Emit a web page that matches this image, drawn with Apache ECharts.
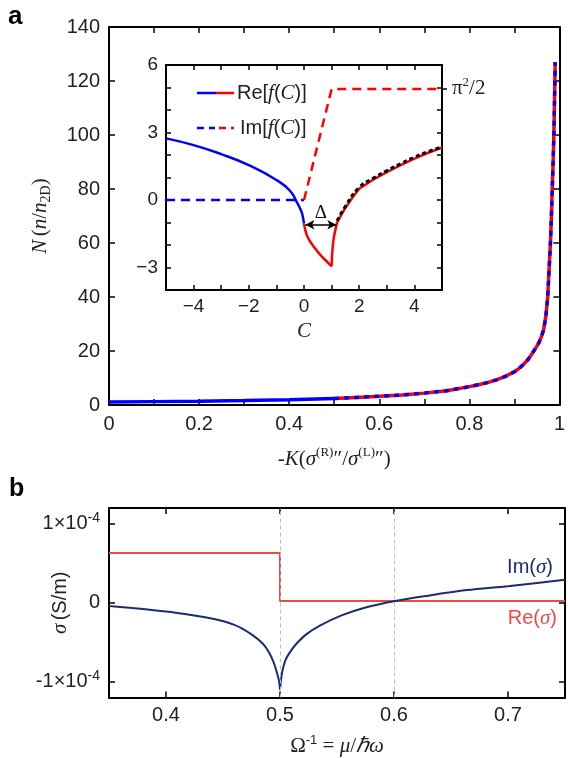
<!DOCTYPE html>
<html>
<head>
<meta charset="utf-8">
<title>N vs K, f(C) inset, sigma</title>
<script src="https://cdn.jsdelivr.net/npm/echarts@6/dist/echarts.min.js"></script>
</head>
<body style="margin:0;background:#fff">
<div id="main" style="width:568px;height:758px;"></div>
<script>
// panel a : N (n/n2D) vs -K
var kSolid = [0, 0.1, 0.2, 0.3, 0.4, 0.5];
var nSolid = [1.1, 1.25, 1.4, 1.65, 1.95, 2.4];
var kDash = [0.5, 0.55, 0.6, 0.65, 0.7, 0.75, 0.8, 0.82, 0.84, 0.86, 0.88, 0.9, 0.91, 0.92, 0.93, 0.94, 0.95, 0.955,
             0.96, 0.965, 0.97, 0.974, 0.977, 0.98, 0.982, 0.984, 0.986, 0.9876, 0.989, 0.9906];
var nDash = [2.4, 2.8, 3.2, 3.7, 4.4, 5.3, 6.8, 7.5, 8.3, 9.3, 10.6, 12.3, 13.5, 15, 16.8, 19.2, 21.8, 23.3,
             25.3, 28, 33, 40, 50, 60, 69, 80, 90, 100, 112, 127];

// inset : f(C)
var cReBlue = [-5, -4, -3, -2, -1, -0.5, -0.25, -0.1, -0.05, 0];
var reBlue = [2.74, 2.44, 2.04, 1.55, 0.89, 0.4, -0.12, -0.49, -0.7, -1.05];
var cReRed1 = [0, 0.05, 0.1, 0.2, 0.4, 0.6, 0.8, 1.0];
var reRed1 = [-1.05, -1.35, -1.55, -1.8, -2.15, -2.45, -2.7, -2.95];
var cReRed2 = [1.0, 1.01, 1.02, 1.035, 1.05, 1.075, 1.1, 1.15, 1.2, 1.35, 1.5, 1.75, 2, 2.5, 3, 3.5, 4, 4.5, 5];
var reRed2 = [-2.95, -2.65, -2.4, -2.15, -1.95, -1.72, -1.55, -1.25, -1.0, -0.66, -0.35, 0.1, 0.5, 0.9, 1.24, 1.55, 1.84, 2.1, 2.33];
var cBlack = [1.2, 1.5, 2, 2.5, 3, 3.5, 4, 4.5, 5];
var reBlack = [-0.93, -0.28, 0.56, 0.96, 1.3, 1.61, 1.9, 2.15, 2.36];
var cImBlue = [-5, 0];
var imBlue = [0, 0];
var cImRed = [0, 1, 5];
var imRed = [0, 4.93, 4.93];
var PI2_HALF = 4.9348;

// panel b : sigma (units of 1e-4 S/m) vs 1/Omega
var omRe = [0.35, 0.5, 0.5, 0.75];
var sigRe = [0.63, 0.63, 0.023, 0.023];
var omIm = [0.35, 0.38, 0.41, 0.44, 0.46, 0.475, 0.485, 0.49, 0.494, 0.497, 0.4993, 0.5,
            0.5007, 0.502, 0.505, 0.51, 0.515, 0.523, 0.535, 0.554, 0.575, 0.6, 0.63, 0.664, 0.7, 0.75];
var sigIm = [-0.04, -0.08, -0.13, -0.2, -0.28, -0.4, -0.52, -0.62, -0.74, -0.87, -1.0, -1.1,
             -1.0, -0.87, -0.72, -0.6, -0.51, -0.4, -0.29, -0.16, -0.06, 0.02, 0.09, 0.16, 0.21, 0.29];
var omTicks = [0.4, 0.5, 0.6, 0.7];
var sigTicks = [-1, 0, 1];
var omMarks = [0.5, 0.6];

var serif = 'Liberation Serif', sans = 'Liberation Sans';

function pairs(xs, ys) {
  return xs.map(function (x, i) { return [x, ys[i]]; });
}

var frame = { show: true, onZero: false, lineStyle: { color: '#000', width: 2 } };
function ticks(len, extra) {
  var t = { show: true, inside: true, length: len, lineStyle: { color: '#000', width: 1.5 } };
  for (var k in extra) t[k] = extra[k];
  return t;
}
var noLabel = { show: false };
var noSplit = { show: false };

var richSerif = {
  n: { fontFamily: serif, fontSize: 21, color: '#222', lineHeight: 26 },
  i: { fontFamily: serif, fontStyle: 'italic', fontSize: 21, color: '#222', lineHeight: 26 },
  s: { fontFamily: sans, fontSize: 20, color: '#222', lineHeight: 26 },
  sub: { fontFamily: serif, fontSize: 14, color: '#222', lineHeight: 14, verticalAlign: 'bottom' },
  sup: { fontFamily: serif, fontSize: 13, color: '#222', lineHeight: 13, verticalAlign: 'top' },
  ssup: { fontFamily: sans, fontSize: 13, color: '#222', lineHeight: 13, verticalAlign: 'top' }
};

var myChart = echarts.init(document.getElementById('main'));

var option = {
  backgroundColor: '#fff',
  animation: false,
  grid: [
    { left: 109, right: 3, top: 27, bottom: 353 },
    { left: 166, right: 126, top: 65, bottom: 468, show: true, backgroundColor: '#fff', borderWidth: 0 },
    { left: 109, right: 3, top: 508, bottom: 60 }
  ],
  xAxis: [
    {
      gridIndex: 0, type: 'value', min: 0, max: 1, interval: 0.1, position: 'bottom',
      axisLine: frame, axisTick: ticks(6), splitLine: noSplit,
      axisLabel: {
        margin: 9, fontFamily: sans, fontSize: 20, color: '#222',
        formatter: function (v) { var t = Math.round(v * 10); return t % 2 === 0 ? String(t / 10) : ''; }
      },
      name: '{n|-}{i|K}{n|(}{i|σ}{sup|(R)}{n|″/}{i|σ}{sup|(L)}{n|″)}',
      nameLocation: 'middle', nameGap: 41, nameTextStyle: { rich: richSerif }
    },
    { gridIndex: 0, type: 'value', min: 0, max: 1, interval: 0.1, position: 'top',
      axisLine: frame, axisTick: ticks(6), axisLabel: noLabel, splitLine: noSplit },
    {
      gridIndex: 1, type: 'value', min: -5, max: 5, interval: 1, position: 'bottom',
      axisLine: frame, axisTick: ticks(5), splitLine: noSplit,
      axisLabel: {
        margin: 7, fontFamily: sans, fontSize: 19, color: '#222',
        formatter: function (v) { return Math.round(v) % 2 === 0 ? String(v).replace('-', '\u2212') : ''; }
      },
      name: '{i|C}', nameLocation: 'middle', nameGap: 28, nameTextStyle: { rich: richSerif }
    },
    { gridIndex: 1, type: 'value', min: -5, max: 5, interval: 1, position: 'top',
      axisLine: frame, axisTick: ticks(5), axisLabel: noLabel, splitLine: noSplit },
    {
      gridIndex: 2, type: 'value', min: 0.35, max: 0.75, position: 'bottom',
      axisLine: frame, axisTick: ticks(6, { customValues: omTicks }), splitLine: noSplit,
      axisLabel: { customValues: omTicks, margin: 8, fontFamily: sans, fontSize: 20, color: '#222' },
      name: '{n|Ω}{ssup|-1}{n| = }{i|μ}{n|/}{i|ℏω}',
      nameLocation: 'middle', nameGap: 36, nameTextStyle: { rich: richSerif }
    },
    { gridIndex: 2, type: 'value', min: 0.35, max: 0.75, position: 'top',
      axisLine: frame, axisTick: ticks(6, { customValues: omTicks }), axisLabel: noLabel, splitLine: noSplit }
  ],
  yAxis: [
    {
      gridIndex: 0, type: 'value', min: 0, max: 140, interval: 20, position: 'left',
      axisLine: frame, axisTick: ticks(6), splitLine: noSplit,
      axisLabel: { margin: 9, fontFamily: sans, fontSize: 20, color: '#222' },
      name: '{i|N} {n|(}{i|n}{n|/}{i|n}{sub|2D}{n|)}',
      nameLocation: 'middle', nameGap: 56, nameTextStyle: { rich: richSerif }
    },
    { gridIndex: 0, type: 'value', min: 0, max: 140, interval: 20, position: 'right',
      axisLine: frame, axisTick: ticks(6), axisLabel: noLabel, splitLine: noSplit },
    {
      gridIndex: 1, type: 'value', min: -4, max: 6, interval: 1, position: 'left',
      axisLine: frame, axisTick: ticks(5), splitLine: noSplit,
      axisLabel: {
        margin: 8, fontFamily: sans, fontSize: 19, color: '#222',
        formatter: function (v) { return Math.round(v) % 3 === 0 ? String(v).replace('-', '\u2212') : ''; }
      }
    },
    { gridIndex: 1, type: 'value', min: -4, max: 6, interval: 1, position: 'right',
      axisLine: frame, axisTick: ticks(5), axisLabel: noLabel, splitLine: noSplit },
    {
      gridIndex: 1, type: 'value', min: -4, max: 6, position: 'right',
      axisLine: { show: false, onZero: false },
      axisTick: { show: true, inside: false, length: 5, customValues: [PI2_HALF], lineStyle: { color: '#000', width: 1.5 } },
      splitLine: noSplit,
      axisLabel: {
        customValues: [PI2_HALF], margin: 10,
        formatter: function () { return '{n|π}{sup|2}{n|/2}'; },
        rich: richSerif
      }
    },
    {
      gridIndex: 2, type: 'value', min: -1.2, max: 1.2, position: 'left',
      axisLine: frame, axisTick: ticks(6, { customValues: sigTicks }), splitLine: noSplit,
      axisLabel: {
        customValues: sigTicks, margin: 9,
        formatter: function (v) {
          if (v === 0) return '{s|0}';
          return (v < 0 ? '{s|-1×10}' : '{s|1×10}') + '{ssup|-4}';
        },
        rich: {
          s: { fontFamily: sans, fontSize: 20, color: '#222', lineHeight: 26 },
          ssup: { fontFamily: sans, fontSize: 14, color: '#222', lineHeight: 14, verticalAlign: 'top' }
        }
      },
      name: '{i|σ} {s|(S/m)}',
      nameLocation: 'middle', nameGap: 36, nameMoveOverlap: false, nameTextStyle: { rich: richSerif }
    },
    { gridIndex: 2, type: 'value', min: -1.2, max: 1.2, position: 'right',
      axisLine: frame, axisTick: ticks(6, { customValues: sigTicks }), axisLabel: noLabel, splitLine: noSplit }
  ],
  series: [
    // panel a main curve
    { type: 'line', xAxisIndex: 0, yAxisIndex: 0, data: pairs(kSolid, nSolid),
      showSymbol: false, lineStyle: { color: '#0000ff', width: 3.5 } },
    { type: 'line', xAxisIndex: 0, yAxisIndex: 0, data: pairs(kDash, nDash),
      showSymbol: false, lineStyle: { color: '#ff0000', width: 3.5 } },
    { type: 'line', xAxisIndex: 0, yAxisIndex: 0, data: pairs(kDash, nDash),
      showSymbol: false, lineStyle: { color: '#0000ff', width: 3.5, type: [5, 5] } },
    // inset
    { type: 'line', xAxisIndex: 2, yAxisIndex: 2, data: pairs(cImBlue, imBlue), showSymbol: false,
      lineStyle: { color: '#0000ff', width: 2.5, type: [9, 6] } },
    { type: 'line', xAxisIndex: 2, yAxisIndex: 2, data: pairs(cImRed, imRed), showSymbol: false,
      lineStyle: { color: '#ff0000', width: 2.5, type: [9, 6] } },
    { type: 'line', xAxisIndex: 2, yAxisIndex: 2, data: pairs(cReBlue, reBlue), smooth: true, showSymbol: false,
      lineStyle: { color: '#0000ff', width: 2.5 } },
    { type: 'line', xAxisIndex: 2, yAxisIndex: 2, data: pairs(cReRed1, reRed1), smooth: true, showSymbol: false,
      lineStyle: { color: '#ff0000', width: 2.5 },
      markLine: {
        silent: true, symbol: ['arrow', 'arrow'], symbolSize: [7, 9],
        lineStyle: { color: '#000', width: 1.5, type: 'solid' },
        label: { show: true, formatter: 'Δ', position: 'insideMiddleTop', distance: 2,
                 fontFamily: serif, fontSize: 19, color: '#111' },
        data: [[{ coord: [0.05, -1.1] }, { coord: [1.17, -1.1] }]]
      } },
    { type: 'line', xAxisIndex: 2, yAxisIndex: 2, data: pairs(cReRed2, reRed2),
      showSymbol: false, lineStyle: { color: '#ff0000', width: 2.5 } },
    { type: 'line', xAxisIndex: 2, yAxisIndex: 2, data: pairs(cBlack, reBlack), smooth: true, showSymbol: false,
      lineStyle: { color: '#000', width: 3, type: [4, 3] } },
    // panel b
    { type: 'line', xAxisIndex: 4, yAxisIndex: 5, data: [], z: 1,
      markLine: {
        silent: true, symbol: 'none', label: { show: false },
        lineStyle: { color: '#bdbdbd', width: 1, type: [4, 3] },
        data: omMarks.map(function (v) { return { xAxis: v }; })
      } },
    { type: 'line', xAxisIndex: 4, yAxisIndex: 5, data: pairs(omRe, sigRe), showSymbol: false, z: 3,
      lineStyle: { color: '#f04848', width: 2 } },
    { type: 'line', xAxisIndex: 4, yAxisIndex: 5, data: pairs(omIm, sigIm), smooth: 0.3, showSymbol: false, z: 4,
      lineStyle: { color: '#1c2a78', width: 2 } }
  ],
  graphic: [
    { type: 'text', x: 8, y: 17, style: { text: 'a', fontFamily: sans, fontWeight: 'bold', fontSize: 26, fill: '#000', verticalAlign: 'middle' } },
    { type: 'text', x: 9, y: 489, style: { text: 'b', fontFamily: sans, fontWeight: 'bold', fontSize: 25, fill: '#000', verticalAlign: 'middle' } },
    // inset legend
    { type: 'line', shape: { x1: 197, y1: 93, x2: 216, y2: 93 }, style: { stroke: '#0000ff', lineWidth: 2.5 }, z: 10 },
    { type: 'line', shape: { x1: 216, y1: 93, x2: 234, y2: 93 }, style: { stroke: '#ff0000', lineWidth: 2.5 }, z: 10 },
    { type: 'line', shape: { x1: 197, y1: 128, x2: 215, y2: 128 }, style: { stroke: '#0000ff', lineWidth: 2.5, lineDash: [7, 5] }, z: 10 },
    { type: 'line', shape: { x1: 219, y1: 128, x2: 234, y2: 128 }, style: { stroke: '#ff0000', lineWidth: 2.5, lineDash: [7, 5] }, z: 10 },
    { type: 'text', x: 237, y: 93, z: 10, style: {
        text: '{s|Re[}{i|f}{s|(}{i|C}{s|)]}', verticalAlign: 'middle',
        rich: { s: { fontFamily: sans, fontSize: 20, fill: '#222' }, i: { fontFamily: serif, fontStyle: 'italic', fontSize: 21, fill: '#222' } } } },
    { type: 'text', x: 240, y: 128, z: 10, style: {
        text: '{s|Im[}{i|f}{s|(}{i|C}{s|)]}', verticalAlign: 'middle',
        rich: { s: { fontFamily: sans, fontSize: 20, fill: '#222' }, i: { fontFamily: serif, fontStyle: 'italic', fontSize: 21, fill: '#222' } } } },
    // panel b curve labels
    { type: 'text', x: 553, y: 567, z: 10, style: {
        text: '{s|Im(}{i|σ}{s|)}', align: 'right', verticalAlign: 'middle',
        rich: { s: { fontFamily: sans, fontSize: 20, fill: '#1c2a78' }, i: { fontFamily: serif, fontStyle: 'italic', fontSize: 21, fill: '#1c2a78' } } } },
    { type: 'text', x: 557, y: 618, z: 10, style: {
        text: '{s|Re(}{i|σ}{s|)}', align: 'right', verticalAlign: 'middle',
        rich: { s: { fontFamily: sans, fontSize: 20, fill: '#f04848' }, i: { fontFamily: serif, fontStyle: 'italic', fontSize: 21, fill: '#f04848' } } } }
  ]
};

myChart.setOption(option);
</script>
</body>
</html>
